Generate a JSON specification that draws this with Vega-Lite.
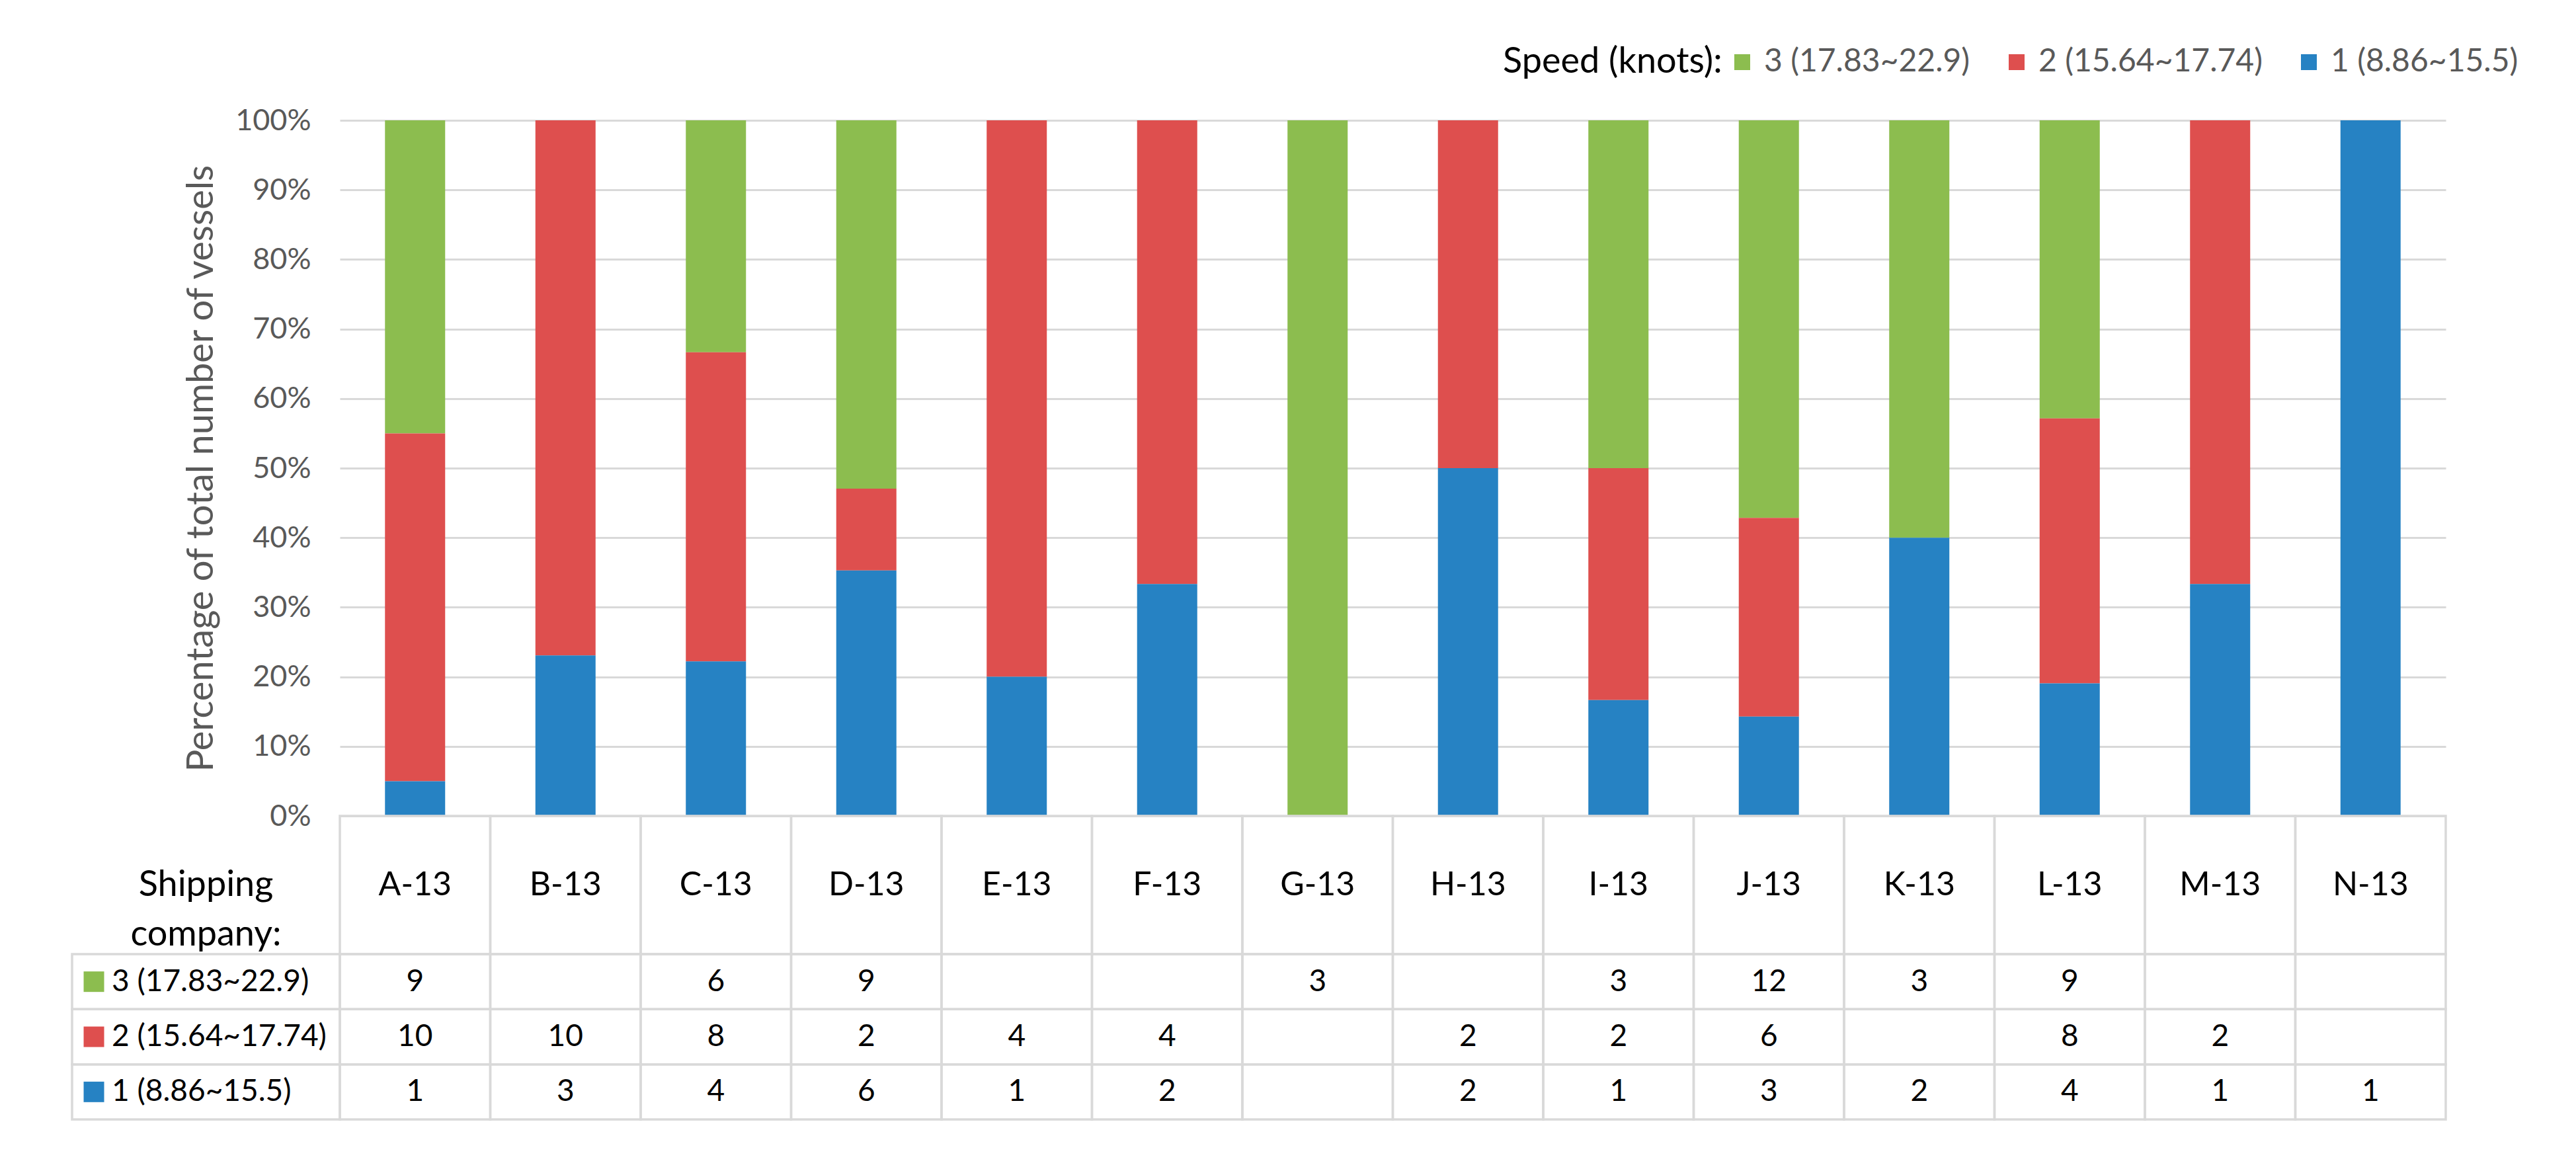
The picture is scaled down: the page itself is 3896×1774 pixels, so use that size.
{
  "$schema": "https://vega.github.io/schema/vega-lite/v6.json",
  "background": "white",
  "padding": {"left": 107, "top": 70, "right": 10, "bottom": 10},
  "bounds": "flush",
  "spacing": 0,
  "columns": 2,
  "config": {"view": {"stroke": null}, "font": "Lato"},
  "datasets": {
    "counts": [
      {"company": "A-13", "speed": "3 (17.83~22.9)", "count": 9},
      {"company": "A-13", "speed": "2 (15.64~17.74)", "count": 10},
      {"company": "A-13", "speed": "1 (8.86~15.5)", "count": 1},
      {"company": "B-13", "speed": "3 (17.83~22.9)", "count": null},
      {"company": "B-13", "speed": "2 (15.64~17.74)", "count": 10},
      {"company": "B-13", "speed": "1 (8.86~15.5)", "count": 3},
      {"company": "C-13", "speed": "3 (17.83~22.9)", "count": 6},
      {"company": "C-13", "speed": "2 (15.64~17.74)", "count": 8},
      {"company": "C-13", "speed": "1 (8.86~15.5)", "count": 4},
      {"company": "D-13", "speed": "3 (17.83~22.9)", "count": 9},
      {"company": "D-13", "speed": "2 (15.64~17.74)", "count": 2},
      {"company": "D-13", "speed": "1 (8.86~15.5)", "count": 6},
      {"company": "E-13", "speed": "3 (17.83~22.9)", "count": null},
      {"company": "E-13", "speed": "2 (15.64~17.74)", "count": 4},
      {"company": "E-13", "speed": "1 (8.86~15.5)", "count": 1},
      {"company": "F-13", "speed": "3 (17.83~22.9)", "count": null},
      {"company": "F-13", "speed": "2 (15.64~17.74)", "count": 4},
      {"company": "F-13", "speed": "1 (8.86~15.5)", "count": 2},
      {"company": "G-13", "speed": "3 (17.83~22.9)", "count": 3},
      {"company": "G-13", "speed": "2 (15.64~17.74)", "count": null},
      {"company": "G-13", "speed": "1 (8.86~15.5)", "count": null},
      {"company": "H-13", "speed": "3 (17.83~22.9)", "count": null},
      {"company": "H-13", "speed": "2 (15.64~17.74)", "count": 2},
      {"company": "H-13", "speed": "1 (8.86~15.5)", "count": 2},
      {"company": "I-13", "speed": "3 (17.83~22.9)", "count": 3},
      {"company": "I-13", "speed": "2 (15.64~17.74)", "count": 2},
      {"company": "I-13", "speed": "1 (8.86~15.5)", "count": 1},
      {"company": "J-13", "speed": "3 (17.83~22.9)", "count": 12},
      {"company": "J-13", "speed": "2 (15.64~17.74)", "count": 6},
      {"company": "J-13", "speed": "1 (8.86~15.5)", "count": 3},
      {"company": "K-13", "speed": "3 (17.83~22.9)", "count": 3},
      {"company": "K-13", "speed": "2 (15.64~17.74)", "count": null},
      {"company": "K-13", "speed": "1 (8.86~15.5)", "count": 2},
      {"company": "L-13", "speed": "3 (17.83~22.9)", "count": 9},
      {"company": "L-13", "speed": "2 (15.64~17.74)", "count": 8},
      {"company": "L-13", "speed": "1 (8.86~15.5)", "count": 4},
      {"company": "M-13", "speed": "3 (17.83~22.9)", "count": null},
      {"company": "M-13", "speed": "2 (15.64~17.74)", "count": 2},
      {"company": "M-13", "speed": "1 (8.86~15.5)", "count": 1},
      {"company": "N-13", "speed": "3 (17.83~22.9)", "count": null},
      {"company": "N-13", "speed": "2 (15.64~17.74)", "count": null},
      {"company": "N-13", "speed": "1 (8.86~15.5)", "count": 1}
    ]
  },
  "concat": [
    {
      "width": 405,
      "height": 1052,
      "data": {"values": [{}]},
      "mark": {"type": "text", "text": ""}
    },
    {
      "width": 3185,
      "height": 1052,
      "data": {"name": "counts"},
      "transform": [{"filter": "isValid(datum.count)"}],
      "mark": {"type": "bar"},
      "encoding": {
        "x": {
          "field": "company",
          "type": "nominal",
          "scale": {"domain": ["A-13","B-13","C-13","D-13","E-13","F-13","G-13","H-13","I-13","J-13","K-13","L-13","M-13","N-13"], "paddingInner": 0.6, "paddingOuter": 0.3},
          "axis": null
        },
        "y": {
          "field": "count",
          "type": "quantitative",
          "stack": "normalize",
          "scale": {"domain": [0, 1], "nice": false},
          "axis": {
            "values": [0, 0.1, 0.2, 0.3, 0.4, 0.5, 0.6, 0.7, 0.8, 0.9, 1],
            "format": "%",
            "title": "Percentage of total number of vessels",
            "grid": true,
            "gridColor": "#d9d9d9",
            "gridWidth": 3,
            "domain": false,
            "ticks": false,
            "labelFontSize": 45,
            "labelColor": "#595959",
            "labelPadding": 44,
            "titleFontSize": 56,
            "titleFontWeight": "normal",
            "titleColor": "#595959",
            "titlePadding": 22,
            "titleLimit": 2000
          }
        },
        "color": {
          "field": "speed",
          "type": "nominal",
          "scale": {"domain": ["3 (17.83~22.9)", "2 (15.64~17.74)", "1 (8.86~15.5)"], "range": ["#8cbd4f", "#de4f4e", "#2682c3"]},
          "legend": {
            "orient": "none",
            "legendX": 2164,
            "legendY": -112,
            "direction": "horizontal",
            "title": "Speed (knots):",
            "titleOrient": "left",
            "titleFontSize": 54,
            "titleFontWeight": "normal",
            "titleColor": "#000000",
            "titlePadding": 6,
            "titleBaseline": "middle",
            "titleAnchor": "middle",
            "titleLimit": 2000,
            "labelFontSize": 48,
            "labelColor": "#595959",
            "labelOffset": 9,
            "labelLimit": 2000,
            "columnPadding": 46,
            "symbolType": "square",
            "symbolSize": 576,
            "symbolStrokeWidth": 0
          }
        },
        "order": {"field": "speed", "sort": "ascending"}
      }
    },
    {
      "width": 405,
      "height": 209,
      "data": {"values": [{"label": ["Shipping", "company:"]}]},
      "mark": {"type": "text", "fontSize": 54, "color": "#000000", "lineHeight": 75, "baseline": "middle"},
      "encoding": {"text": {"field": "label", "type": "nominal"}}
    },
    {
      "width": 3185,
      "height": 209,
      "data": {"name": "counts"},
      "transform": [{"aggregate": [{"op": "count", "as": "n"}], "groupby": ["company"]}],
      "encoding": {
        "x": {
          "field": "company",
          "type": "nominal",
          "scale": {"domain": ["A-13","B-13","C-13","D-13","E-13","F-13","G-13","H-13","I-13","J-13","K-13","L-13","M-13","N-13"], "paddingInner": 0, "paddingOuter": 0},
          "axis": null
        }
      },
      "layer": [
        {"mark": {"type": "rect", "filled": false, "stroke": "#d9d9d9", "strokeWidth": 3.5}},
        {"mark": {"type": "text", "fontSize": 50, "color": "#000000"}, "encoding": {"text": {"field": "company", "type": "nominal"}}}
      ]
    },
    {
      "width": 405,
      "height": 250,
      "data": {"name": "counts"},
      "transform": [{"aggregate": [{"op": "count", "as": "n"}], "groupby": ["speed"]}],
      "encoding": {
        "y": {
          "field": "speed",
          "type": "nominal",
          "scale": {"domain": ["3 (17.83~22.9)", "2 (15.64~17.74)", "1 (8.86~15.5)"], "paddingInner": 0, "paddingOuter": 0},
          "axis": null
        }
      },
      "layer": [
        {"mark": {"type": "rect", "filled": false, "stroke": "#d9d9d9", "strokeWidth": 3.5}},
        {
          "mark": {"type": "point", "shape": "square", "filled": true, "size": 961, "opacity": 1},
          "encoding": {
            "x": {"value": 33},
            "fill": {"field": "speed", "type": "nominal", "scale": {"domain": ["3 (17.83~22.9)", "2 (15.64~17.74)", "1 (8.86~15.5)"], "range": ["#8cbd4f", "#de4f4e", "#2682c3"]}, "legend": null}
          }
        },
        {
          "mark": {"type": "text", "align": "left", "fontSize": 46, "color": "#000000"},
          "encoding": {"x": {"value": 60}, "text": {"field": "speed", "type": "nominal"}}
        }
      ]
    },
    {
      "width": 3185,
      "height": 250,
      "data": {"name": "counts"},
      "encoding": {
        "x": {
          "field": "company",
          "type": "nominal",
          "scale": {"domain": ["A-13","B-13","C-13","D-13","E-13","F-13","G-13","H-13","I-13","J-13","K-13","L-13","M-13","N-13"], "paddingInner": 0, "paddingOuter": 0},
          "axis": null
        },
        "y": {
          "field": "speed",
          "type": "nominal",
          "scale": {"domain": ["3 (17.83~22.9)", "2 (15.64~17.74)", "1 (8.86~15.5)"], "paddingInner": 0, "paddingOuter": 0},
          "axis": null
        }
      },
      "layer": [
        {"mark": {"type": "rect", "filled": false, "stroke": "#d9d9d9", "strokeWidth": 3.5}},
        {
          "transform": [{"filter": "isValid(datum.count)"}],
          "mark": {"type": "text", "fontSize": 46, "color": "#000000"},
          "encoding": {"text": {"field": "count", "type": "quantitative"}}
        }
      ]
    }
  ]
}
